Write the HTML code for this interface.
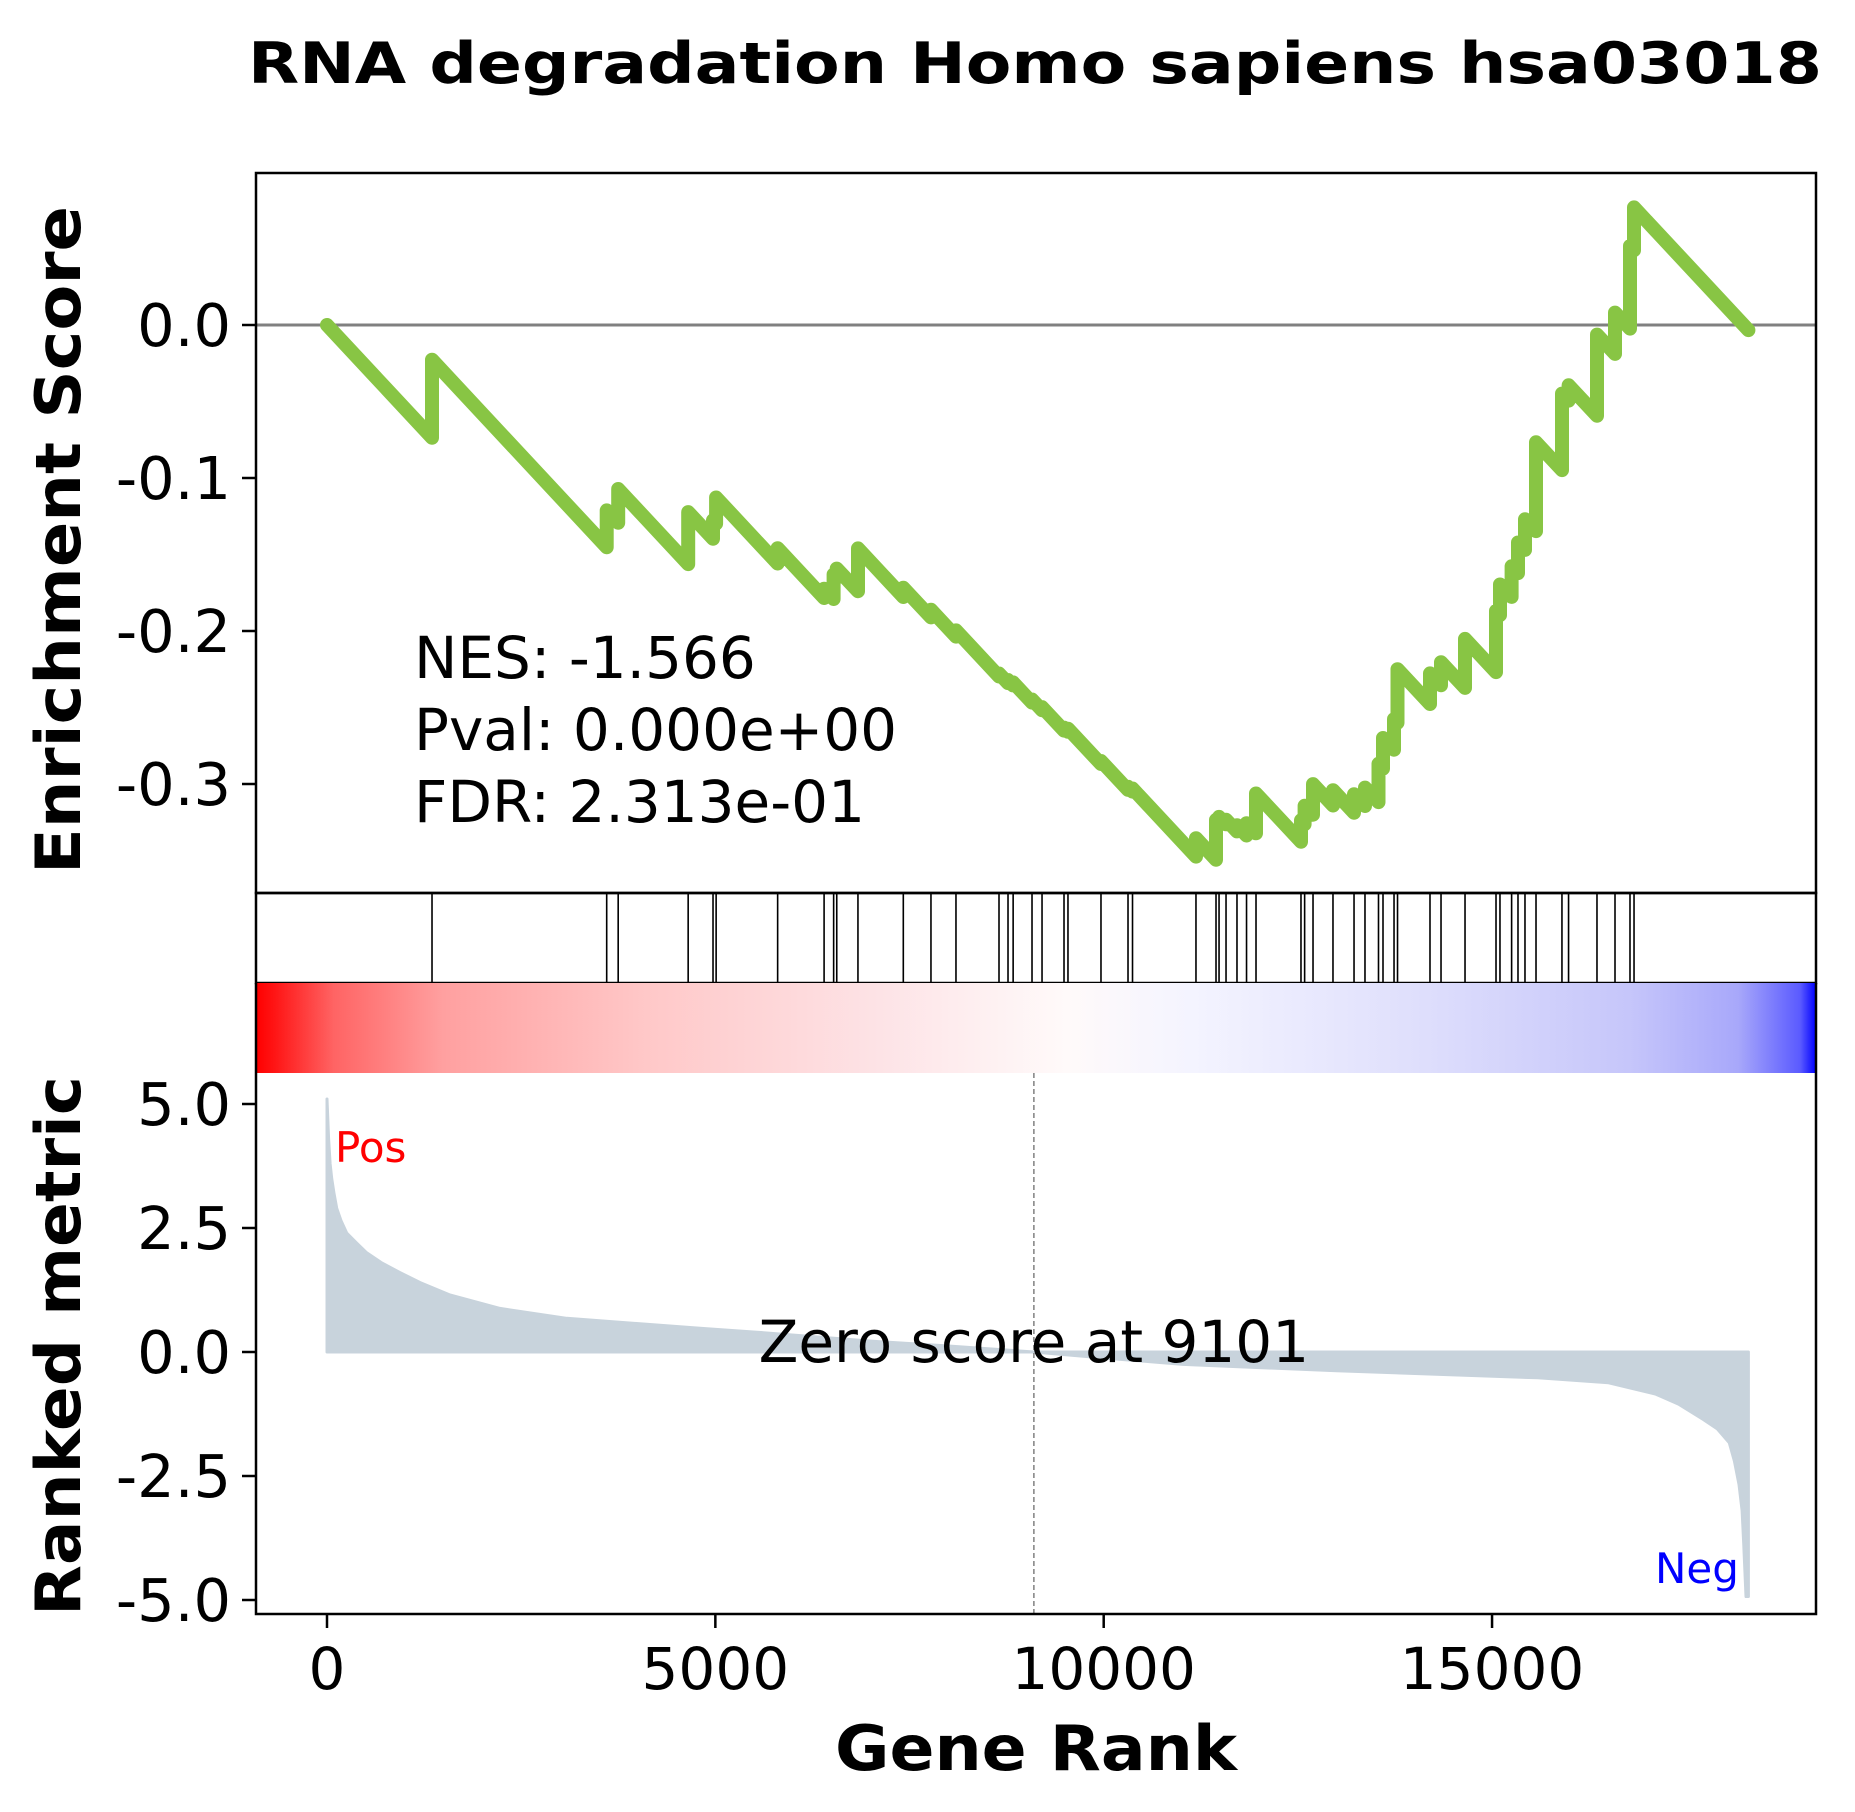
<!DOCTYPE html>
<html><head><meta charset="utf-8"><style>
html,body{margin:0;padding:0;background:#fff;}
svg{display:block;font-family:"DejaVu Sans","Liberation Sans",sans-serif;}
</style></head><body>
<svg id="chart" width="1855" height="1812" viewBox="0 0 1855 1812" xmlns="http://www.w3.org/2000/svg">
<defs>
<linearGradient id="rankGrad" x1="0" x2="1" y1="0" y2="0">
<stop offset="0" stop-color="#ff0000"/>
<stop offset="0.012" stop-color="#ff1515"/>
<stop offset="0.05" stop-color="#ff6464"/>
<stop offset="0.12" stop-color="#ffa0a0"/>
<stop offset="0.25" stop-color="#ffc8c8"/>
<stop offset="0.40" stop-color="#fde3e6"/>
<stop offset="0.52" stop-color="#fffafa"/>
<stop offset="0.60" stop-color="#f4f4ff"/>
<stop offset="0.75" stop-color="#dedefc"/>
<stop offset="0.88" stop-color="#c6c6fa"/>
<stop offset="0.95" stop-color="#a8a8fa"/>
<stop offset="0.99" stop-color="#5a5aff"/>
<stop offset="1" stop-color="#0000ff"/>
</linearGradient>
</defs>
<text x="1035" y="83" text-anchor="middle" font-size="57" font-weight="bold" textLength="1574" lengthAdjust="spacingAndGlyphs">RNA degradation Homo sapiens hsa03018</text>
<g id="esAxes"></g>
<g id="rugAxes"></g>
<rect x="256" y="983" width="1560" height="90" fill="url(#rankGrad)"/>
<g id="metricAxes"></g>
<text x="414" y="678" font-size="58">NES: -1.566</text>
<text x="414" y="750" font-size="58">Pval: 0.000e+00</text>
<text x="414" y="822" font-size="58">FDR: 2.313e-01</text>
<text transform="translate(80,540) rotate(-90)" text-anchor="middle" font-size="62" font-weight="bold" textLength="668" lengthAdjust="spacingAndGlyphs">Enrichment Score</text>
<text transform="translate(80,1346) rotate(-90)" text-anchor="middle" font-size="62" font-weight="bold" textLength="540" lengthAdjust="spacingAndGlyphs">Ranked metric</text>
<text x="1036" y="1770" text-anchor="middle" font-size="62" font-weight="bold" textLength="402" lengthAdjust="spacingAndGlyphs">Gene Rank</text>
</svg>
<script>
const hitRanks = [1352,3601,3749,4650,4970,5010,5802,6400,6523,6563,6836,7420,7776,8098,8652,8768,8834,9077,9206,9489,9540,9965,10313,10371,11188,11446,11485,11575,11716,11839,11961,12540,12587,12695,12952,13223,13364,13538,13596,13738,13783,14201,14343,14652,15051,15102,15252,15334,15424,15566,15900,15985,16351,16583,16776,16828];
const hitJumps = [0.051,0.024,0.022,0.034,0.012,0.017,0.010,0.006,0.016,0.006,0.028,0.006,0.005,0.004,0.002,0.002,0.002,0.002,0.002,0.002,0.002,0.002,0.002,0.002,0.012,0.026,0.004,0.003,0.004,0.008,0.026,0.014,0.012,0.020,0.010,0.012,0.012,0.025,0.020,0.020,0.035,0.020,0.015,0.032,0.040,0.020,0.020,0.020,0.020,0.058,0.050,0.010,0.053,0.027,0.054,0.028];
const totalGenes = 18300;
const missPenalty = 0.0000545;
const metricRanks = [0,20,40,60,90,125,180,254,380,511,700,940,1200,1584,2228,3086,4802,5535,7000,8000,9101,10000,11020,13000,15590,16500,17110,17400,17720,17900,18055,18120,18180,18220,18240,18270,18300];
const metricValues = [5.1,4.3,3.8,3.5,3.2,2.9,2.65,2.4,2.2,2.0,1.8,1.6,1.4,1.15,0.88,0.68,0.48,0.40,0.22,0.12,0,-0.12,-0.25,-0.38,-0.52,-0.62,-0.85,-1.05,-1.36,-1.55,-1.83,-2.2,-2.67,-3.2,-3.86,-4.93,-4.93];
const esTicks = [0, -0.1, -0.2, -0.3];
const esTickLabels = ["0.0","-0.1","-0.2","-0.3"];
const metricTicks = [5, 2.5, 0, -2.5, -5];
const metricTickLabels = ["5.0","2.5","0.0","-2.5","-5.0"];
const xTicks = [0, 5000, 10000, 15000];
const xTickLabels = ["0","5000","10000","15000"];
const zeroScoreRank = 9101;

const NS = "http://www.w3.org/2000/svg";
const L = 256, R = 1816;
const xs = r => 327 + r * 0.07767;
const esY = v => 325 - v * 1530;
const mY = v => 1352 - v * 49.6;
function mk(tag, attrs, parent) {
  const e = document.createElementNS(NS, tag);
  for (const k in attrs) e.setAttribute(k, attrs[k]);
  parent.appendChild(e);
  return e;
}
const esG = document.getElementById('esAxes');
const rugG = document.getElementById('rugAxes');
const mG = document.getElementById('metricAxes');

let zl = mk('line', {x1:L, x2:R, y1:esY(0), y2:esY(0), stroke:'#808080', 'stroke-width':3}, esG);



let pts = [[0, 0]];
let es = 0, prev = 0;
for (let i = 0; i < hitRanks.length; i++) {
  es -= (hitRanks[i] - prev - (i > 0 ? 1 : 0)) * missPenalty;
  pts.push([hitRanks[i], es]);
  es += hitJumps[i];
  pts.push([hitRanks[i], es]);
  prev = hitRanks[i];
}
es -= (totalGenes - prev) * missPenalty;
pts.push([totalGenes, es]);
let esLine = mk('polyline', {points: pts.map(p => xs(p[0]).toFixed(1) + ',' + esY(p[1]).toFixed(1)).join(' '), fill:'none', stroke:'#88c544', 'stroke-width':14, 'stroke-linejoin':'round', 'stroke-linecap':'round'}, esG);



let esFrame = mk('rect', {x:L, y:173, width:R-L, height:720, fill:'none', stroke:'#000', 'stroke-width':2.5}, esG);


esTicks.forEach((t, i) => {
  let tk = mk('line', {x1:L-14, x2:L, y1:esY(t), y2:esY(t), stroke:'#000', 'stroke-width':2.5}, esG);
  
  
  let tl = mk('text', {x:L-25, y:esY(t)+21, 'text-anchor':'end', 'font-size':59}, esG);
  tl.textContent = esTickLabels[i];
  
  
});

hitRanks.forEach(r => {
  let h = mk('line', {x1:xs(r), x2:xs(r), y1:893, y2:983, stroke:'#000', 'stroke-width':1.6}, rugG);
  
  
});
let rugFrame = mk('rect', {x:L, y:893, width:R-L, height:90, fill:'none', stroke:'#000', 'stroke-width':2.5}, rugG);



let d = 'M' + xs(metricRanks[0]) + ',' + mY(0);
for (let i = 0; i < metricRanks.length; i++) d += ' L' + xs(metricRanks[i]).toFixed(1) + ',' + mY(metricValues[i]).toFixed(1);
d += ' L' + xs(metricRanks[metricRanks.length-1]).toFixed(1) + ',' + mY(0) + ' Z';
let area = mk('path', {d: d, fill:'#c8d3dc', stroke:'#c8d3dc', 'stroke-width':3, 'stroke-linejoin':'round'}, mG);



let zs = mk('line', {x1:xs(zeroScoreRank), x2:xs(zeroScoreRank), y1:1073, y2:1614, stroke:'#808080', 'stroke-width':1.5, 'stroke-dasharray':'5,3'}, mG);


let zt = mk('text', {x:xs(zeroScoreRank), y:1362, 'text-anchor':'middle', 'font-size':58}, mG);
zt.textContent = 'Zero score at ' + zeroScoreRank;



let pos = mk('text', {x:335, y:1162, 'font-size':42, fill:'#ff0000'}, mG);
pos.textContent = 'Pos';


let neg = mk('text', {x:1655, y:1583, 'font-size':42, fill:'#0000ff'}, mG);
neg.textContent = 'Neg';



let mf = mk('path', {d:'M'+L+',983 L'+L+',1614 L'+R+',1614 L'+R+',983', fill:'none', stroke:'#000', 'stroke-width':2.5}, mG);


metricTicks.forEach((t, i) => {
  let tk = mk('line', {x1:L-14, x2:L, y1:mY(t), y2:mY(t), stroke:'#000', 'stroke-width':2.5}, mG);
  
  
  let tl = mk('text', {x:L-25, y:mY(t)+21, 'text-anchor':'end', 'font-size':59}, mG);
  tl.textContent = metricTickLabels[i];
  
  
});
xTicks.forEach((t, i) => {
  let tk = mk('line', {x1:xs(t), x2:xs(t), y1:1614, y2:1628, stroke:'#000', 'stroke-width':2.5}, mG);
  
  
  let tl = mk('text', {x:xs(t), y:1689, 'text-anchor':'middle', 'font-size':58}, mG);
  tl.textContent = xTickLabels[i];
  
  
});
</script>
</body></html>
